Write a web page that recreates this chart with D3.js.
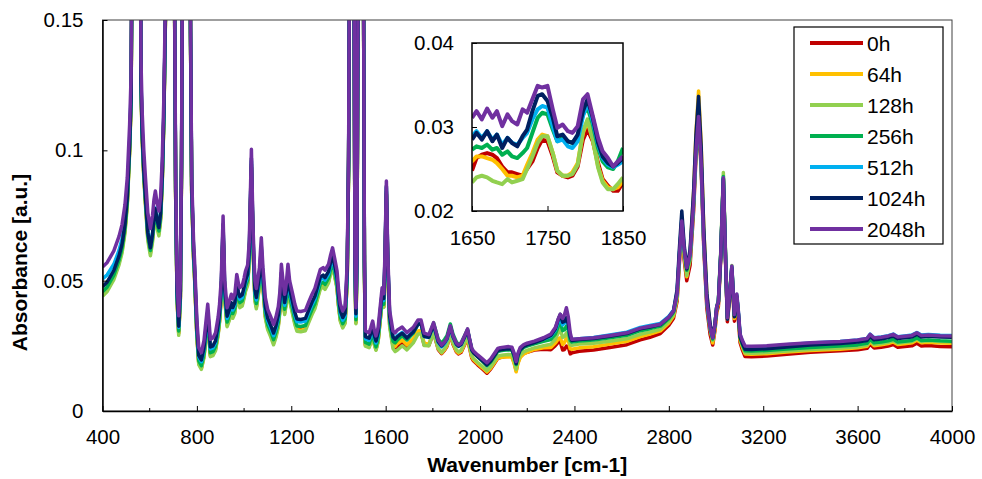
<!DOCTYPE html>
<html>
<head>
<meta charset="utf-8">
<script src="https://cdn.jsdelivr.net/npm/d3@7"></script>
<style>
  body { margin: 0; background: #fff; }
  text { font-family: "Liberation Sans", Arial, sans-serif; fill: #000; }
</style>
</head>
<body>
<div id="chart"></div>
<script>
// series names and colours
let seriesNames = ["0h", "64h", "128h", "256h", "512h", "1024h", "2048h"];
let seriesColors = ["#C00000", "#FFC000", "#92D050", "#00B050", "#00B0F0", "#002060", "#7030A0"];

// 2048h spectrum (wavenumber, absorbance); off-scale bands get values > 0.15
let baseWn = [400, 420, 448, 470, 483, 495, 505, 515, 521, 530, 545, 558, 563, 568, 575, 582, 592, 603, 612, 618, 624, 631, 639, 646, 653, 660, 667, 680, 693, 700, 705, 710, 716, 723, 730, 735, 740, 750, 760, 768, 773, 778, 786, 790, 800, 808, 819, 830, 838, 846, 852, 857, 868, 879, 890, 896, 903, 911, 918, 928, 937, 946, 952, 961, 969, 976, 982, 992, 1000, 1006, 1015, 1022, 1031, 1038, 1046, 1052, 1065, 1073, 1080, 1090, 1100, 1112, 1125, 1135, 1145, 1152, 1158, 1165, 1172, 1179, 1186, 1193, 1206, 1215, 1224, 1240, 1260, 1275, 1288, 1300, 1309, 1323, 1335, 1343, 1358, 1367, 1375, 1385, 1394, 1400, 1408, 1418, 1428, 1437, 1443, 1450, 1458, 1465, 1470, 1474, 1478, 1485, 1495, 1505, 1510, 1514, 1530, 1537, 1545, 1552, 1559, 1568, 1575, 1585, 1592, 1597, 1603, 1609, 1617, 1631, 1640, 1650, 1670, 1690, 1717, 1737, 1750, 1763, 1783, 1803, 1823, 1837, 1850, 1860, 1874, 1885, 1900, 1909, 1920, 1935, 1947, 1955, 1965, 1972, 1990, 2010, 2029, 2045, 2060, 2075, 2086, 2100, 2121, 2135, 2145, 2153, 2160, 2170, 2185, 2199, 2230, 2269, 2300, 2319, 2332, 2340, 2350, 2358, 2366, 2374, 2382, 2389, 2420, 2481, 2550, 2622, 2679, 2720, 2764, 2800, 2820, 2835, 2845, 2855, 2865, 2876, 2890, 2905, 2915, 2926, 2937, 2948, 2961, 2975, 2986, 2995, 3003, 3010, 3020, 3031, 3040, 3048, 3058, 3067, 3073, 3078, 3088, 3095, 3102, 3112, 3123, 3150, 3215, 3300, 3400, 3526, 3600, 3640, 3653, 3670, 3700, 3730, 3751, 3770, 3800, 3830, 3851, 3870, 3900, 3950, 4000];
let baseAbs = [0.0552, 0.0570, 0.0614, 0.0670, 0.0716, 0.0790, 0.0895, 0.110, 0.128, 0.25, 0.40, 0.25, 0.135, 0.115, 0.100, 0.0895, 0.076, 0.0700, 0.075, 0.081, 0.0844, 0.080, 0.0767, 0.082, 0.0959, 0.120, 0.16, 0.35, 0.45, 0.30, 0.17, 0.09, 0.050, 0.0365, 0.050, 0.10, 0.20, 0.35, 0.30, 0.25, 0.15, 0.09, 0.065, 0.058, 0.035, 0.0243, 0.0224, 0.027, 0.034, 0.041, 0.034, 0.0275, 0.028, 0.030, 0.036, 0.041, 0.050, 0.0748, 0.050, 0.0396, 0.042, 0.0448, 0.043, 0.045, 0.0524, 0.049, 0.0473, 0.048, 0.051, 0.0537, 0.056, 0.065, 0.1004, 0.070, 0.050, 0.047, 0.055, 0.0665, 0.055, 0.0435, 0.039, 0.0364, 0.0332, 0.036, 0.040, 0.046, 0.0563, 0.050, 0.0448, 0.049, 0.0563, 0.050, 0.0448, 0.041, 0.0384, 0.0382, 0.0386, 0.042, 0.0448, 0.047, 0.0499, 0.0543, 0.0550, 0.0540, 0.0563, 0.060, 0.0626, 0.058, 0.0537, 0.047, 0.041, 0.0384, 0.040, 0.0563, 0.10, 0.25, 0.35, 0.20, 0.06, 0.0396, 0.06, 0.20, 0.40, 0.20, 0.06, 0.0307, 0.0300, 0.032, 0.0345, 0.031, 0.0288, 0.032, 0.0384, 0.0473, 0.045, 0.060, 0.0882, 0.060, 0.0384, 0.0307, 0.030, 0.0311, 0.0322, 0.0301, 0.0321, 0.0349, 0.0349, 0.0299, 0.0293, 0.0339, 0.0271, 0.0253, 0.0265, 0.028, 0.0327, 0.029, 0.026, 0.0253, 0.026, 0.029, 0.0315, 0.028, 0.024, 0.023, 0.0215, 0.020, 0.0185, 0.020, 0.022, 0.0240, 0.0243, 0.0245, 0.0247, 0.0245, 0.022, 0.0190, 0.022, 0.0243, 0.0255, 0.0260, 0.0268, 0.0281, 0.0295, 0.0320, 0.0355, 0.0371, 0.0355, 0.037, 0.0396, 0.036, 0.0300, 0.0275, 0.0277, 0.0281, 0.0290, 0.0300, 0.0318, 0.0325, 0.0333, 0.036, 0.0384, 0.045, 0.060, 0.0729, 0.062, 0.0550, 0.060, 0.080, 0.100, 0.1130, 0.095, 0.065, 0.042, 0.032, 0.0281, 0.033, 0.0400, 0.042, 0.060, 0.0895, 0.060, 0.0358, 0.045, 0.0556, 0.045, 0.0370, 0.0449, 0.038, 0.0295, 0.027, 0.0249, 0.0248, 0.0250, 0.0256, 0.0262, 0.0267, 0.0272, 0.0278, 0.0294, 0.0280, 0.0283, 0.0288, 0.0294, 0.0284, 0.0287, 0.0290, 0.0300, 0.0290, 0.0292, 0.0289, 0.0288];

// shift of each series against 2048h, read at these wavenumbers
let offsetWn = [400, 600, 720, 820, 1000, 1300, 1430, 1600, 1650, 1850, 2030, 2150, 2250, 2320, 2340, 2366, 2390, 2700, 2820, 2855, 2876, 2926, 2986, 3031, 3123, 3500, 4000];
let offset0h =    [-0.0100, -0.0090, -0.0065, -0.0058, -0.0068, -0.0068, -0.0058, -0.0048, -0.0063, -0.0031, -0.0040, -0.0035, -0.0034, -0.0070, -0.0105, -0.0147, -0.0048, -0.0045, -0.0028, -0.0030, -0.0050, -0.0020, -0.0028, -0.0010, -0.0040, -0.0036, -0.0042];
let offset64h =   [-0.0105, -0.0095, -0.0068, -0.0060, -0.0072, -0.0072, -0.0060, -0.0050, -0.0052, -0.0029, -0.0035, -0.0040, -0.0030, -0.0060, -0.0090, -0.0115, -0.0035, -0.0032, -0.0020, -0.0010, -0.0035, 0.0098, -0.0020, 0.0000, -0.0030, -0.0030, -0.0028];
let offset128h =  [-0.0112, -0.0105, -0.0075, -0.0064, -0.0078, -0.0078, -0.0064, -0.0052, -0.0077, -0.0025, -0.0030, -0.0030, -0.0025, -0.0045, -0.0058, -0.0096, -0.0020, -0.0024, -0.0015, -0.0010, -0.0030, 0.0000, -0.0010, 0.0020, -0.0026, -0.0026, -0.0022];
let offset256h =  [-0.0095, -0.0085, -0.0058, -0.0050, -0.0058, -0.0058, -0.0048, -0.0040, -0.0038, 0.0010, -0.0012, -0.0012, -0.0010, -0.0025, -0.0032, -0.0070, -0.0008, -0.0010, -0.0005, 0.0000, -0.0010, 0.0000, -0.0005, 0.0005, -0.0018, -0.0018, -0.0020];
let offset512h =  [-0.0045, -0.0070, -0.0045, -0.0035, -0.0045, -0.0040, -0.0035, -0.0025, -0.0022, -0.0006, -0.0005, -0.0005, -0.0003, -0.0010, -0.0015, -0.0040, 0.0000, 0.0003, 0.0003, 0.0010, 0.0000, 0.0020, 0.0000, 0.0000, -0.0004, 0.0000, 0.0002];
let offset1024h = [-0.0075, -0.0075, -0.0040, -0.0028, -0.0035, -0.0030, -0.0025, -0.0018, -0.0026, -0.0002, -0.0008, -0.0008, -0.0005, -0.0005, 0.0000, -0.0038, -0.0003, -0.0003, 0.0000, 0.0038, -0.0005, 0.0077, 0.0000, -0.0005, -0.0012, -0.0008, -0.0005];
let offset2048h = [0, 0, 0, 0, 0, 0, 0, 0, 0, 0, 0, 0, 0, 0, 0, 0, 0, 0, 0, 0, 0, 0, 0, 0, 0, 0, 0];
let offsets = [offset0h, offset64h, offset128h, offset256h, offset512h, offset1024h, offset2048h];

// inset, 1650-1850 cm-1
let insetWn = [1650, 1656, 1663, 1670, 1677, 1683, 1690, 1697, 1703, 1710, 1717, 1723, 1730, 1737, 1743, 1750, 1757, 1763, 1770, 1777, 1783, 1790, 1797, 1803, 1810, 1817, 1823, 1830, 1837, 1843, 1850];
let inset0h =    [0.0248, 0.0263, 0.0267, 0.0269, 0.0267, 0.0263, 0.0253, 0.0246, 0.0246, 0.0244, 0.0242, 0.0250, 0.0259, 0.0275, 0.0285, 0.0283, 0.0265, 0.0246, 0.0242, 0.0240, 0.0242, 0.0253, 0.0285, 0.0297, 0.0283, 0.0257, 0.0238, 0.0230, 0.0224, 0.0224, 0.0234];
let inset64h =   [0.0259, 0.0265, 0.0265, 0.0263, 0.0261, 0.0257, 0.0250, 0.0242, 0.0242, 0.0240, 0.0242, 0.0255, 0.0269, 0.0285, 0.0291, 0.0289, 0.0269, 0.0248, 0.0242, 0.0242, 0.0246, 0.0257, 0.0293, 0.0307, 0.0285, 0.0253, 0.0236, 0.0228, 0.0226, 0.0228, 0.0236];
let inset128h =  [0.0234, 0.0240, 0.0242, 0.0240, 0.0236, 0.0234, 0.0232, 0.0238, 0.0234, 0.0236, 0.0238, 0.0250, 0.0265, 0.0281, 0.0289, 0.0289, 0.0269, 0.0248, 0.0242, 0.0242, 0.0244, 0.0255, 0.0295, 0.0309, 0.0285, 0.0252, 0.0234, 0.0226, 0.0226, 0.0232, 0.0240];
let inset256h =  [0.0273, 0.0277, 0.0275, 0.0279, 0.0273, 0.0275, 0.0267, 0.0271, 0.0265, 0.0263, 0.0269, 0.0275, 0.0293, 0.0311, 0.0317, 0.0315, 0.0297, 0.0283, 0.0287, 0.0283, 0.0281, 0.0289, 0.0315, 0.0323, 0.0303, 0.0275, 0.0259, 0.0252, 0.0250, 0.0259, 0.0275];
let inset512h =  [0.0289, 0.0295, 0.0287, 0.0295, 0.0285, 0.0291, 0.0279, 0.0287, 0.0281, 0.0279, 0.0287, 0.0293, 0.0309, 0.0321, 0.0325, 0.0323, 0.0301, 0.0283, 0.0285, 0.0277, 0.0275, 0.0283, 0.0313, 0.0329, 0.0307, 0.0279, 0.0263, 0.0255, 0.0252, 0.0255, 0.0259];
let inset1024h = [0.0285, 0.0293, 0.0285, 0.0295, 0.0283, 0.0291, 0.0275, 0.0287, 0.0281, 0.0277, 0.0289, 0.0297, 0.0319, 0.0337, 0.0339, 0.0331, 0.0311, 0.0289, 0.0291, 0.0283, 0.0281, 0.0291, 0.0319, 0.0333, 0.0311, 0.0281, 0.0265, 0.0257, 0.0253, 0.0257, 0.0263];
let inset2048h = [0.0311, 0.0319, 0.0309, 0.0322, 0.0311, 0.0319, 0.0301, 0.0315, 0.0307, 0.0303, 0.0321, 0.0317, 0.0333, 0.0349, 0.0347, 0.0349, 0.0321, 0.0299, 0.0303, 0.0295, 0.0293, 0.0301, 0.0333, 0.0339, 0.0313, 0.0287, 0.0271, 0.0263, 0.0253, 0.0259, 0.0265];
let insetSeries = [inset0h, inset64h, inset128h, inset256h, inset512h, inset1024h, inset2048h];

// ticks
let xTicksMajor = [400, 800, 1200, 1600, 2000, 2400, 2800, 3200, 3600, 4000];
let xTicksMinor = [600, 1000, 1400, 1800, 2200, 2600, 3000, 3400, 3800];
let yTicks = [0, 0.05, 0.1, 0.15];
let insetXTicks = [1650, 1750, 1850];
let insetYTicks = [0.02, 0.03, 0.04];

let W = 982, H = 479;
let margin = {top: 20, right: 30, bottom: 68, left: 102.5};
let plotW = W - margin.left - margin.right;
let plotH = H - margin.top - margin.bottom;
let fs = "20.5px";

let svg = d3.select("#chart").append("svg")
    .attr("width", W)
    .attr("height", H);

let g = svg.append("g")
    .attr("transform", "translate(" + margin.left + "," + margin.top + ")");

let x = d3.scaleLinear().domain([400, 4000]).range([0, plotW]);
let y = d3.scaleLinear().domain([0, 0.15]).range([plotH, 0]);

svg.append("defs").append("clipPath").attr("id", "plotClip")
    .append("rect").attr("x", 0).attr("y", 0).attr("width", plotW).attr("height", plotH);

// spectra
let lines = g.append("g").attr("clip-path", "url(#plotClip)");
let line = d3.line()
    .x(function(d) { return x(d[0]); })
    .y(function(d) { return y(d[1]); });

seriesNames.forEach(function(name, i) {
    let off = d3.scaleLinear().domain(offsetWn).range(offsets[i]);
    let pts = baseWn.map(function(w, j) { return [w, baseAbs[j] + off(w)]; });
    lines.append("path")
        .datum(pts)
        .attr("fill", "none")
        .attr("stroke", seriesColors[i])
        .attr("stroke-width", 3.5)
        .attr("stroke-linejoin", "round")
        .attr("d", line);
});

// frame
g.append("rect")
    .attr("width", plotW).attr("height", plotH)
    .attr("fill", "none").attr("stroke", "#404040").attr("stroke-width", 1);

// x axis, ticks pointing inwards
let xAxis = d3.axisBottom(x).tickValues(xTicksMajor).tickFormat(d3.format("d"))
    .tickSizeInner(-5).tickSizeOuter(0).tickPadding(18);
let xAxisG = g.append("g").attr("transform", "translate(0," + plotH + ")").call(xAxis);
xAxisG.select(".domain").attr("stroke", "#000").attr("stroke-width", 1.5);
xAxisG.selectAll("text").style("font-size", fs);
xAxisG.selectAll(".minor").data(xTicksMinor).enter().append("line")
    .attr("class", "minor")
    .attr("x1", function(d) { return x(d); }).attr("x2", function(d) { return x(d); })
    .attr("y1", 0).attr("y2", -3)
    .attr("stroke", "#000");

let yAxis = d3.axisLeft(y).tickValues(yTicks).tickFormat(function(d) { return String(d); })
    .tickSizeInner(-5).tickSizeOuter(0).tickPadding(19);
let yAxisG = g.append("g").call(yAxis);
yAxisG.select(".domain").attr("stroke", "#000").attr("stroke-width", 1.5);
yAxisG.selectAll("text").style("font-size", fs);

// axis titles
svg.append("text")
    .attr("x", margin.left + plotW / 2)
    .attr("y", 472)
    .attr("text-anchor", "middle")
    .style("font-size", "21px").style("font-weight", "bold")
    .text("Wavenumber [cm-1]");

svg.append("text")
    .attr("transform", "translate(27," + (margin.top + plotH / 2 + 47) + ") rotate(-90)")
    .attr("text-anchor", "middle")
    .style("font-size", "21px").style("font-weight", "bold")
    .text("Absorbance [a.u.]");

// inset
let ins = {left: 472, top: 43, width: 151, height: 168};
let ig = svg.append("g").attr("transform", "translate(" + ins.left + "," + ins.top + ")");
let ix = d3.scaleLinear().domain([1650, 1850]).range([0, ins.width]);
let iy = d3.scaleLinear().domain([0.02, 0.04]).range([ins.height, 0]);

svg.select("defs").append("clipPath").attr("id", "insetClip")
    .append("rect").attr("x", 0).attr("y", 0).attr("width", ins.width).attr("height", ins.height);

ig.append("rect").attr("width", ins.width).attr("height", ins.height).attr("fill", "#fff");

let iline = d3.line()
    .x(function(d) { return ix(d[0]); })
    .y(function(d) { return iy(d[1]); });

let ilines = ig.append("g").attr("clip-path", "url(#insetClip)");
insetSeries.forEach(function(vals, i) {
    ilines.append("path")
        .datum(insetWn.map(function(w, j) { return [w, vals[j]]; }))
        .attr("fill", "none")
        .attr("stroke", seriesColors[i])
        .attr("stroke-width", 4)
        .attr("stroke-linejoin", "round")
        .attr("d", iline);
});

ig.append("rect").attr("width", ins.width).attr("height", ins.height)
    .attr("fill", "none").attr("stroke", "#000").attr("stroke-width", 1.5);

let ixAxisG = ig.append("g").attr("transform", "translate(0," + ins.height + ")")
    .call(d3.axisBottom(ix).tickValues(insetXTicks).tickFormat(d3.format("d"))
        .tickSizeInner(-5).tickSizeOuter(0).tickPadding(19));
ixAxisG.select(".domain").remove();
ixAxisG.selectAll("text").style("font-size", fs);

let iyAxisG = ig.append("g")
    .call(d3.axisLeft(iy).tickValues(insetYTicks).tickFormat(d3.format(".2f"))
        .tickSizeInner(-5).tickSizeOuter(0).tickPadding(18));
iyAxisG.select(".domain").remove();
iyAxisG.selectAll("text").style("font-size", fs);

// legend
let lg = svg.append("g").attr("transform", "translate(794,27)");
lg.append("rect").attr("width", 149).attr("height", 217)
    .attr("fill", "#fff").attr("stroke", "#000").attr("stroke-width", 1.2);
let item = lg.selectAll(".item").data(seriesNames).enter().append("g")
    .attr("class", "item")
    .attr("transform", function(d, i) { return "translate(0," + (16 + i * 31) + ")"; });
item.append("line")
    .attr("x1", 16).attr("x2", 69).attr("y1", 0).attr("y2", 0)
    .attr("stroke", function(d, i) { return seriesColors[i]; })
    .attr("stroke-width", 4);
item.append("text")
    .attr("x", 73).attr("y", 7.5)
    .style("font-size", "21px")
    .text(function(d) { return d; });
</script>
</body>
</html>
